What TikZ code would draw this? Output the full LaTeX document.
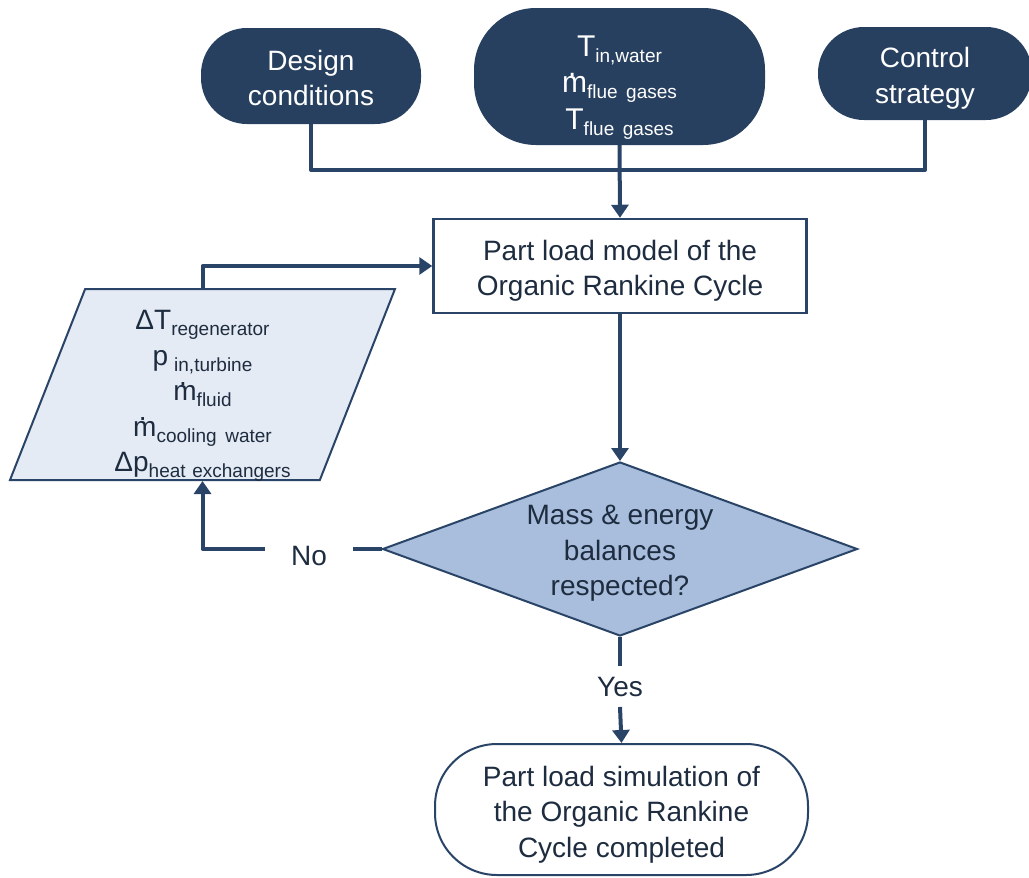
\documentclass[tikz,border=0pt]{standalone}
\usepackage{fontspec}
\setmainfont{Liberation Sans}
\usetikzlibrary{shapes.geometric,arrows.meta}

\definecolor{navy}{HTML}{27405F}
\definecolor{wire}{HTML}{2A4467}
\definecolor{ink}{HTML}{1E2C40}
\definecolor{paramfill}{HTML}{E5EBF4}
\definecolor{decfill}{HTML}{A8BEDC}

% lowered small index text (its depth is capped so line boxes stay even)
\newcommand\idx[1]{\raisebox{-6pt}[8pt][6pt]{\fontsize{19}{19}\selectfont #1}}
% m with a dot above (mass flow rate)
\newcommand\mflow{\makebox[0pt][l]{\raisebox{0.55em}{\kern0.2em.}}m}
% struts fixing the height of a first line and the depth of a last line
\newcommand\topfix[1][30pt]{\rule{0pt}{#1}}
\newcommand\botfix{\rule[-6pt]{0pt}{6pt}}

\begin{document}
\begin{tikzpicture}[x=1pt,y=-1pt,
  font=\fontsize{28}{35.5}\selectfont,
  pill/.style={rectangle, rounded corners=#1, fill=navy, text=white,
    align=center, inner sep=0pt},
  procbox/.style={rectangle, draw=wire, line width=2.5pt, fill=white,
    text=ink, align=center, inner sep=0pt},
  decision/.style={diamond, aspect=2.73, draw=wire, line width=2pt,
    fill=decfill, text=ink, align=center, inner sep=0pt},
  paramset/.style={trapezium, trapezium left angle=68,
    trapezium right angle=112, trapezium stretches body, draw=wire,
    line width=2pt, fill=paramfill, text=ink, align=center, inner sep=0pt},
  endpill/.style={rectangle, rounded corners=62pt, draw=wire,
    line width=2pt, fill=white, text=ink, align=center, inner sep=0pt},
  branch/.style={text=ink, inner sep=0pt},
  wireline/.style={draw=wire, line width=4pt, line join=round},
  flow/.style={wireline, -{Triangle[width=17pt,length=13pt]}}
]
\useasboundingbox (0,0) rectangle (1029,878);

% input nodes
\node[pill=46pt, minimum width=220pt, minimum height=96pt]
  (design) at (311,76) {\topfix Design\\conditions\botfix};
\node[pill=62pt, minimum width=291pt, minimum height=137pt,
  font=\fontsize{30}{36.5}\selectfont]
  (inputs) at (619.5,76.5)
  {\topfix[38pt]T\idx{in,water}\\
   \mflow\idx{flue\hspace{0.45em}gases}\\
   T\idx{flue\hspace{0.45em}gases}\botfix};
\node[pill=46pt, minimum width=214pt, minimum height=93pt]
  (control) at (925,73.5) {\topfix Control\\strategy\botfix};

% model and convergence check
\node[procbox, minimum width=373pt, minimum height=94pt]
  (model) at (620,266) {\topfix Part load model of the\\Organic Rankine Cycle\botfix};
\node[decision, minimum width=475pt, minimum height=174pt]
  (check) at (620,549) {\topfix[28pt]Mass \& energy\\balances\\respected?\botfix};

% iteration variables
\node[paramset, minimum width=385pt, minimum height=191pt]
  (param) at (202.5,384.5)
  {\topfix[38pt]ΔT\idx{regenerator}\\
   p\hspace{6pt}\idx{in,turbine}\\
   \mflow\idx{fluid}\\
   \mflow\idx{cooling\hspace{0.45em}water}\\
   Δp\idx{heat\hspace{0.35em}exchangers}\botfix};

% result
\node[endpill, minimum width=373pt, minimum height=131pt]
  (done) at (621.5,809.5)
  {\topfix Part load simulation of\\the Organic Rankine\\Cycle completed\botfix};

% branch labels
\node[branch] (no) at (309,556) {No};
\node[branch] (yes) at (620,687) {Yes};

% connectors
\coordinate (join) at (620,170);
\draw[wireline] (design.south) |- (join) -| (control.south);
\draw[flow] (inputs.south) -- (model.north);
\draw[flow] (model.south) -- (check.north);
\draw[wireline] (check.west) -- ([xshift=26pt]check.west -| no.east);
\draw[flow] ([xshift=-26pt]no.west |- check.west) -| (param.south);
\draw[flow] (param.north) |- (model.west);
\draw[wireline] (check.south) -- ([yshift=11pt]yes.north);
\draw[flow] ([yshift=-10pt]yes.south) -- (done.north);
\end{tikzpicture}
\end{document}
